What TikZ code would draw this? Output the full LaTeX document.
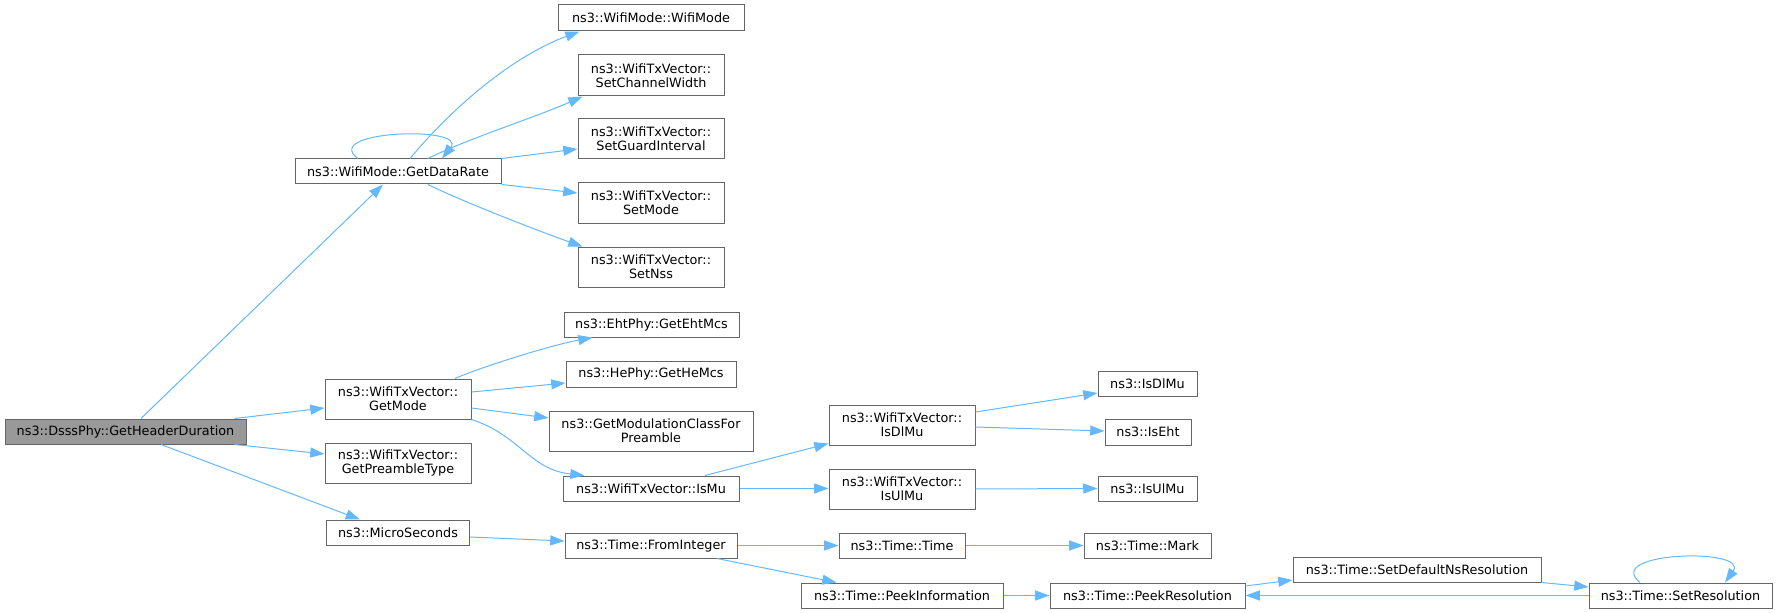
\documentclass[tikz,border=0pt]{standalone}
\usepackage{fontspec}
\setmainfont{DejaVu Sans}
\usetikzlibrary{calc,arrows.meta}
\definecolor{edgeblue}{HTML}{63B8FF}
\definecolor{boxline}{HTML}{666666}
\definecolor{rootfill}{HTML}{999999}
\tikzset{
  bx/.style 2 args={draw=boxline, line width=0.75pt, fill=white, inner sep=0pt, align=center,
    minimum width=#1*0.75pt, minimum height=#2*0.75pt,
    font=\fontsize{9.6pt}{10.75pt}\selectfont},
  rootbox/.style={fill=rootfill},
  cn/.style={draw=edgeblue, line width=0.75pt, -{Triangle[length=10.7pt,width=7.5pt]}},
}
\begin{document}
\begin{tikzpicture}[x=0.75pt,y=-0.75pt]
\useasboundingbox (0,0) rectangle (1777,613);
% nodes
\node[bx={241}{25},rootbox] (dsss) at (125.5,431.5) {ns3::DsssPhy::GetHeaderDuration};
\node[bx={206}{25}] (gdr) at (398,171.5) {ns3::WifiMode::GetDataRate};
\node[bx={186}{26}] (wm) at (651,18) {ns3::WifiMode::WifiMode};
\node[bx={146}{41}] (scw) at (651,75.5) {ns3::WifiTxVector::\\SetChannelWidth};
\node[bx={146}{40}] (sgi) at (651,139) {ns3::WifiTxVector::\\SetGuardInterval};
\node[bx={146}{40}] (sm) at (651,203) {ns3::WifiTxVector::\\SetMode};
\node[bx={146}{40}] (sn) at (651,267) {ns3::WifiTxVector::\\SetNss};
\node[bx={146}{40}] (gm) at (398,399) {ns3::WifiTxVector::\\GetMode};
\node[bx={146}{40}] (gpt) at (398,463) {ns3::WifiTxVector::\\GetPreambleType};
\node[bx={143}{25}] (ms) at (398,532.5) {ns3::MicroSeconds};
\node[bx={175}{25}] (eht) at (651.5,324.5) {ns3::EhtPhy::GetEhtMcs};
\node[bx={170}{26}] (he) at (651,374) {ns3::HePhy::GetHeMcs};
\node[bx={204}{40}] (gmc) at (651,431) {ns3::GetModulationClassFor\\Preamble};
\node[bx={176}{25}] (ismu) at (651,488.5) {ns3::WifiTxVector::IsMu};
\node[bx={172}{25}] (fi) at (651,545.5) {ns3::Time::FromInteger};
\node[bx={146}{40}] (dlmu) at (902,425) {ns3::WifiTxVector::\\IsDlMu};
\node[bx={146}{40}] (ulmu) at (902,489) {ns3::WifiTxVector::\\IsUlMu};
\node[bx={126}{25}] (tt) at (902,545.5) {ns3::Time::Time};
\node[bx={202}{25}] (pi) at (902,595.5) {ns3::Time::PeekInformation};
\node[bx={99}{25}] (isdl) at (1147.5,383.5) {ns3::IsDlMu};
\node[bx={86}{26}] (iseht) at (1148,432) {ns3::IsEht};
\node[bx={99}{25}] (isul) at (1147.5,488.5) {ns3::IsUlMu};
\node[bx={127}{25}] (mark) at (1147.5,545.5) {ns3::Time::Mark};
\node[bx={195}{25}] (pr) at (1147.5,595.5) {ns3::Time::PeekResolution};
\node[bx={248}{25}] (sdns) at (1417,569.5) {ns3::Time::SetDefaultNsResolution};
\node[bx={183}{25}] (sr) at (1680.5,595.5) {ns3::Time::SetResolution};
% connectors
\draw[cn] ($(dsss.north)+(15.5,0)$) -- ($(gdr.south)+(-15,0)$);
\draw[cn] ($(dsss.north east)+(-12,0)$) -- ($(gm.west)+(0,9)$);
\draw[cn] ($(dsss.south east)+(-12,0)$) -- ($(gpt.west)+(0,-9)$);
\draw[cn] ($(dsss.south)+(35.5,0)$) -- ($(ms.north)+(-38,0)$);
\draw[cn] ($(gdr.north)+(-40,0)$) .. controls +(-38,-28) and +(26,-33) .. ($(gdr.north)+(44,0)$);
\draw[cn] ($(gdr.north)+(12,0)$) .. controls +(45,-54) and +(-65,24) .. ($(wm.south west)+(22,0)$);
\draw[cn] ($(gdr.north)+(30,0)$) .. controls +(40,-20) and +(-50,22) .. ($(scw.south west)+(5,0)$);
\draw[cn] (gdr.north east) -- ($(sgi.west)+(0,10)$);
\draw[cn] (gdr.south east) -- ($(sm.west)+(0,-10)$);
\draw[cn] ($(gdr.south)+(30,0)$) .. controls +(32,16) and +(-43,-15) .. ($(sn.north west)+(5,0)$);
\draw[cn] ($(gm.north)+(57,0)$) .. controls +(25,-11) and +(-43,8) .. ($(eht.south west)+(29,0)$);
\draw[cn] ($(gm.east)+(0,-7)$) -- ($(he.west)+(0,9)$);
\draw[cn] ($(gm.east)+(0,9)$) -- ($(gmc.west)+(0,-13)$);
\draw[cn] (gm.south east) .. controls +(49,16) and +(-55,-6) .. ($(ismu.north west)+(22,0)$);
\draw[cn] ($(ismu.north)+(54,0)$) -- ($(dlmu.south west)+(0,-2)$);
\draw[cn] (ismu.east) -- (ulmu.west |- ismu.east);
\draw[cn] ($(dlmu.east)+(0,-13)$) -- ($(isdl.west)+(0,9.5)$);
\draw[cn] ($(dlmu.east)+(0,2)$) -- ($(iseht.west)+(0,-1)$);
\draw[cn] (ulmu.east) -- (isul.west);
\draw[cn] ($(ms.east)+(0,4.5)$) -- ($(fi.west)+(0,-4.5)$);
\draw[cn] (fi.east) -- (tt.west);
\draw[cn] ($(fi.south)+(66,0)$) -- ($(pi.north west)+(36,0)$);
\draw[cn] (tt.east) -- (mark.west);
\draw[cn] (pi.east) -- (pr.west);
\draw[cn] ($(pr.east)+(0,-9.5)$) -- ($(sdns.west)+(0,10.5)$);
\draw[cn] (sdns.south east) -- ($(sr.west)+(0,-8.5)$);
\draw[cn] (sr.west) -- (pr.east);
\draw[cn] ($(sr.north)+(-40.5,0)$) .. controls +(-38,-31) and +(25,-35) .. ($(sr.north)+(44.5,0)$);
\end{tikzpicture}
\end{document}
